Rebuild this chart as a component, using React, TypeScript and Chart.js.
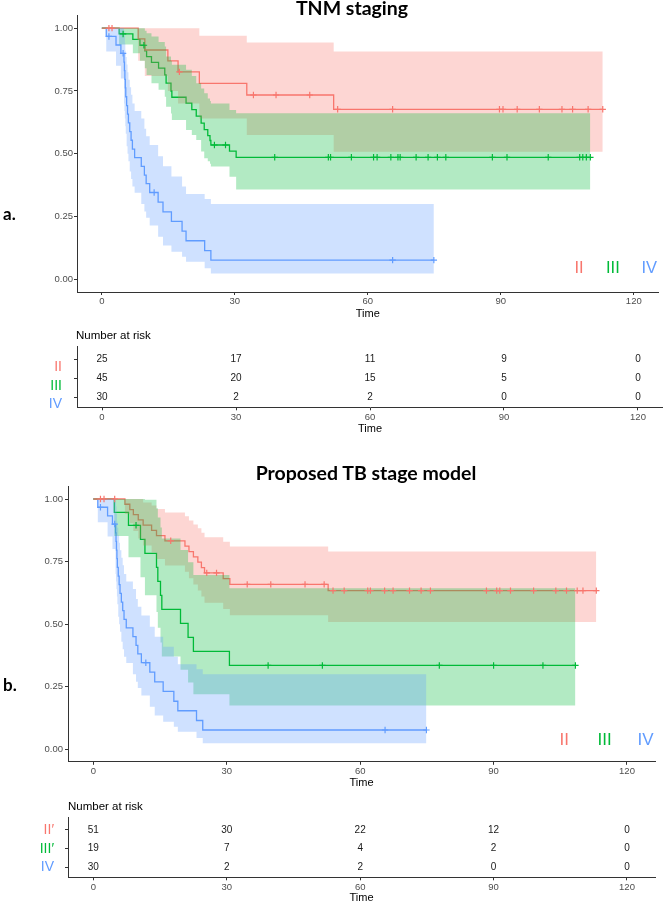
import React, { useEffect, useRef } from "react";
import { Chart, registerables } from "chart.js";

Chart.register(...registerables);

// ---------------- colours & fonts ----------------
const RED = "#F8766D";
const GREEN = "#00BA38";
const BLUE = "#619CFF";
const RED_BAND = "rgba(248,118,109,0.3)";
const GREEN_BAND = "rgba(0,186,56,0.3)";
const BLUE_BAND = "rgba(97,156,255,0.3)";
const FONT = "'Liberation Sans', Arial, sans-serif";
const TITLE_FONT = "Lato, 'Open Sans', sans-serif";
const AXIS = "#333333";
const TICK = "#4D4D4D";

// ---------------- shared axis ticks ----------------
const timeTicks = [0, 30, 60, 90, 120];
const survTicks = [0, 0.25, 0.5, 0.75, 1];

// ---------------- a. TNM staging ----------------
const tnmIITime = [0, 8.2, 9.7, 14.9, 17.2, 22.0, 32.7, 52.3, 113.0];
const tnmIISurv = [1, 0.957, 0.913, 0.87, 0.826, 0.78, 0.734, 0.677, 0.677];
const tnmIIUpper = [1, 1, 1, 1, 1, 0.97, 0.943, 0.907, 0.907];
const tnmIILower = [1, 0.87, 0.81, 0.75, 0.7, 0.64, 0.575, 0.508, 0.508];
const tnmIICensor = [1.6, 2.3, 17.5, 34.2, 39.3, 46.9, 53.2, 65.6, 89.7, 90.5, 93.7, 98.7, 103.8, 106.2, 109.7, 113.0];

const tnmIIITime = [0, 3.9, 7.0, 8.6, 9.7, 10.1, 11.2, 12.8, 14.2, 14.5, 15.6, 15.8, 19.0, 20.3, 21.3, 22.4, 23.1, 23.9, 24.4, 24.6, 28.8, 30.3, 110.2];
const tnmIIISurv = [1, 0.977, 0.955, 0.932, 0.91, 0.887, 0.864, 0.841, 0.814, 0.781, 0.75, 0.725, 0.702, 0.676, 0.65, 0.622, 0.596, 0.572, 0.553, 0.535, 0.511, 0.486, 0.486];
const tnmIIIUpper = [1, 1, 1, 1, 0.99, 0.98, 0.967, 0.945, 0.927, 0.887, 0.87, 0.854, 0.834, 0.81, 0.781, 0.76, 0.741, 0.72, 0.71, 0.7, 0.674, 0.661, 0.661];
const tnmIIILower = [1, 0.935, 0.9, 0.87, 0.84, 0.814, 0.781, 0.755, 0.727, 0.687, 0.66, 0.635, 0.595, 0.575, 0.555, 0.509, 0.482, 0.47, 0.46, 0.449, 0.409, 0.358, 0.358];
const tnmIIICensor = [4.8, 9.5, 25.4, 27.9, 39.0, 51.1, 51.6, 56.3, 61.3, 62.1, 65.2, 66.8, 67.3, 70.9, 73.6, 75.7, 77.6, 88.1, 91.4, 100.7, 107.8, 108.5, 109.3, 110.2];

// stage IV is the same group in both panels
const ivTime = [0, 1.0, 3.2, 4.3, 5.0, 5.1, 5.2, 5.3, 5.4, 5.6, 5.8, 6.0, 6.3, 6.6, 6.9, 7.4, 8.9, 9.6, 10.0, 10.8, 12.7, 13.8, 15.7, 18.1, 19.0, 23.2, 24.6, 74.9];
const ivSurv = [1, 0.967, 0.933, 0.9, 0.865, 0.831, 0.796, 0.762, 0.727, 0.692, 0.658, 0.623, 0.588, 0.554, 0.519, 0.485, 0.45, 0.415, 0.381, 0.346, 0.308, 0.269, 0.231, 0.192, 0.154, 0.115, 0.077, 0.077];
const ivUpper = [1, 1, 1, 1, 0.99, 0.97, 0.94, 0.91, 0.885, 0.855, 0.825, 0.795, 0.765, 0.735, 0.7, 0.67, 0.64, 0.6, 0.57, 0.535, 0.49, 0.45, 0.41, 0.37, 0.34, 0.32, 0.3, 0.3];
const ivLower = [1, 0.907, 0.85, 0.8, 0.7, 0.67, 0.64, 0.61, 0.58, 0.53, 0.5, 0.47, 0.43, 0.4, 0.37, 0.345, 0.3, 0.27, 0.245, 0.215, 0.17, 0.135, 0.11, 0.09, 0.07, 0.045, 0.024, 0.024];
const ivCensor = [1.6, 4.8, 11.8, 65.6, 74.9];

// ---------------- b. Proposed TB stage model ----------------
const tbIITime = [0, 7.1, 8.2, 9.0, 10.1, 11.2, 13.1, 14.2, 16.1, 20.6, 21.5, 22.5, 23.5, 24.3, 25.0, 29.2, 30.7, 52.8, 113.1];
const tbIISurv = [1, 0.979, 0.958, 0.938, 0.917, 0.896, 0.875, 0.854, 0.833, 0.812, 0.79, 0.769, 0.748, 0.726, 0.705, 0.682, 0.659, 0.634, 0.634];
const tbIIUpper = [1, 1, 1, 1, 1, 0.986, 0.974, 0.96, 0.946, 0.931, 0.914, 0.898, 0.883, 0.865, 0.847, 0.829, 0.81, 0.79, 0.79];
const tbIILower = [1, 0.94, 0.903, 0.872, 0.842, 0.814, 0.786, 0.76, 0.734, 0.709, 0.683, 0.658, 0.634, 0.61, 0.586, 0.561, 0.536, 0.509, 0.509];
const tbIICensor = [1.6, 2.4, 4.8, 17.4, 25.5, 27.7, 34.6, 39.9, 47.6, 51.9, 53.9, 56.4, 61.7, 62.3, 65.5, 67.4, 71.1, 73.7, 75.8, 88.4, 90.7, 91.4, 93.8, 99.0, 104.0, 106.4, 108.8, 110.1, 113.1];

const tbIIITime = [0, 4.7, 7.9, 10.6, 11.6, 14.2, 14.5, 15.1, 15.4, 19.6, 21.3, 22.5, 30.6, 108.4];
const tbIIISurv = [1, 0.947, 0.895, 0.839, 0.783, 0.727, 0.671, 0.615, 0.559, 0.503, 0.447, 0.391, 0.335, 0.335];
const tbIIIUpper = [1, 1, 1, 1, 0.997, 0.963, 0.926, 0.886, 0.842, 0.796, 0.747, 0.696, 0.643, 0.643];
const tbIIILower = [1, 0.852, 0.767, 0.687, 0.615, 0.549, 0.486, 0.427, 0.371, 0.318, 0.267, 0.22, 0.175, 0.175];
const tbIIICensor = [9.6, 39.3, 51.5, 77.8, 90.0, 101.1, 108.4];

// ---------------- number at risk ----------------
const riskTimes = [0, 30, 60, 90, 120];
const tnmRiskII = [25, 17, 11, 9, 0];
const tnmRiskIII = [45, 20, 15, 5, 0];
const tnmRiskIV = [30, 2, 2, 0, 0];
const tbRiskII = [51, 30, 22, 12, 0];
const tbRiskIII = [19, 7, 4, 2, 0];
const tbRiskIV = [30, 2, 2, 0, 0];
const tnmRowLabels = ["II", "III", "IV"];
const tbRowLabels = ["II\u2032", "III\u2032", "IV"];
const rowColors = [RED, GREEN, BLUE];

// ---------------- helpers ----------------
function survAt(time: number[], surv: number[], t: number) {
  let v = surv[0];
  for (let i = 0; i < time.length; i++) if (time[i] <= t) v = surv[i];
  return v;
}
function pts(xs: number[], ys: number[]) {
  return xs.map((x, i) => ({ x, y: ys[i] }));
}

type Group = {
  time: number[]; surv: number[]; upper: number[]; lower: number[];
  censor: number[]; color: string; band: string;
};

// Chart.js "before" stepping = horizontal first, then vertical (Kaplan–Meier steps)
const STEP = "before";

function kmDatasets(groups: Group[]) {
  const ds: any[] = [];
  groups.forEach((g) => {
    ds.push({
      data: pts(g.time, g.surv), borderColor: g.color, borderWidth: 1.3,
      stepped: STEP, pointRadius: 0, pointHoverRadius: 0, fill: false, order: 10,
    });
  });
  groups.forEach((g, gi) => {
    ds.push({
      data: pts(g.time, g.upper), borderColor: "rgba(0,0,0,0)", borderWidth: 0,
      backgroundColor: g.band, stepped: STEP, pointRadius: 0, pointHoverRadius: 0,
      fill: "+1", order: 5 - gi,
    });
    ds.push({
      data: pts(g.time, g.lower), borderColor: "rgba(0,0,0,0)", borderWidth: 0,
      stepped: STEP, pointRadius: 0, pointHoverRadius: 0, fill: false, order: 5 - gi,
    });
  });
  groups.forEach((g) => {
    ds.push({
      data: g.censor.map((t) => ({ x: t, y: survAt(g.time, g.surv, t) })),
      showLine: false, pointStyle: "cross", pointRadius: 3.2, pointHoverRadius: 3.2,
      pointBorderColor: g.color, borderColor: g.color, pointBorderWidth: 1.2, order: 0,
    });
  });
  return ds;
}

type Frame = {
  height: number; areaTop: number; areaBottom: number; areaLeft: number;
  padRight: number; xMin: number; xMax: number; yPad: number;
};

function xAxis(f: Frame) {
  return {
    type: "linear", min: f.xMin, max: f.xMax,
    afterBuildTicks: (s: any) => { s.ticks = timeTicks.map((v) => ({ value: v })); },
    afterFit: (s: any) => { s.height = f.height - f.areaBottom; },
    grid: { display: true, drawOnChartArea: false, drawTicks: true, tickLength: 3, color: AXIS, lineWidth: 1 },
    border: { display: true, color: AXIS, width: 1 },
    ticks: { color: TICK, font: { family: FONT, size: 9.5 }, padding: 1, maxRotation: 0, autoSkip: false, callback: (v: any) => String(v) },
    title: { display: true, text: "Time", color: "#000", font: { family: FONT, size: 11 }, padding: { top: 0, bottom: 1 } },
  };
}

function kmConfig(groups: Group[], f: Frame): any {
  return {
    type: "line",
    data: { datasets: kmDatasets(groups) },
    options: {
      responsive: false, animation: false, events: [],
      layout: { padding: { top: f.areaTop, right: f.padRight, left: 0, bottom: 0 } },
      plugins: { legend: { display: false }, tooltip: { enabled: false }, title: { display: false } },
      scales: {
        x: xAxis(f),
        y: {
          type: "linear", min: -0.05, max: 1.05,
          afterBuildTicks: (s: any) => { s.ticks = survTicks.map((v) => ({ value: v })); },
          afterFit: (s: any) => { s.width = f.areaLeft; },
          grid: { display: true, drawOnChartArea: false, drawTicks: true, tickLength: 3, color: AXIS, lineWidth: 1 },
          border: { display: true, color: AXIS, width: 1 },
          ticks: { color: TICK, font: { family: FONT, size: 9.5 }, padding: f.yPad, callback: (v: any) => Number(v).toFixed(2) },
        },
      },
    },
  };
}

const riskTextPlugin = {
  id: "riskText",
  afterDatasetsDraw(chart: any) {
    const ctx = chart.ctx;
    ctx.save();
    ctx.font = `10px ${FONT}`;
    ctx.fillStyle = "#1a1a1a";
    ctx.textAlign = "center";
    ctx.textBaseline = "middle";
    chart.data.datasets.forEach((ds: any, di: number) => {
      const meta = chart.getDatasetMeta(di);
      meta.data.forEach((el: any, i: number) => {
        ctx.fillText(String(ds.data[i].n), el.x, el.y);
      });
    });
    ctx.restore();
  },
};

type TableFrame = Frame & { yMin: number; yMax: number; labelOffset: number };

function riskConfig(rows: number[][], labels: string[], f: TableFrame): any {
  return {
    type: "line",
    data: {
      datasets: rows.map((counts, ri) => ({
        data: riskTimes.map((t, i) => ({ x: t, y: 3 - ri, n: counts[i] })),
        showLine: false, pointRadius: 0, pointHoverRadius: 0,
      })),
    },
    options: {
      responsive: false, animation: false, events: [],
      layout: { padding: { top: f.areaTop, right: f.padRight, left: 0, bottom: 0 } },
      plugins: { legend: { display: false }, tooltip: { enabled: false } },
      scales: {
        x: xAxis(f),
        y: {
          type: "linear", min: f.yMin, max: f.yMax,
          afterBuildTicks: (s: any) => { s.ticks = [1, 2, 3].map((v) => ({ value: v })); },
          afterFit: (s: any) => { s.width = f.areaLeft; },
          grid: { display: true, drawOnChartArea: false, drawTicks: true, tickLength: 3, color: AXIS, lineWidth: 1 },
          border: { display: true, color: AXIS, width: 1 },
          ticks: {
            font: { family: FONT, size: 14 },
            padding: f.yPad,
            labelOffset: f.labelOffset,
            color: (c: any) => rowColors[3 - c.tick.value],
            callback: (v: any) => labels[3 - Number(v)],
          },
        },
      },
    },
    plugins: [riskTextPlugin],
  };
}

// ---------------- frames (pixel layout) ----------------
const chartAFrame: Frame = { height: 322, areaTop: 15.6, areaBottom: 292, areaLeft: 77, padRight: 0, xMin: -5.6, xMax: 125.6, yPad: 1 };
const tableAFrame: TableFrame = { height: 115, areaTop: 24.7, areaBottom: 85.3, areaLeft: 77, padRight: 0, xMin: -5.6, xMax: 125.6, yPad: 12, yMin: 0.46, yMax: 3.67, labelOffset: 7.5 };
const chartBFrame: Frame = { height: 354, areaTop: 49.5, areaBottom: 324.8, areaLeft: 68, padRight: 8, xMin: -5.7, xMax: 126.3, yPad: 2 };
const tableBFrame: TableFrame = { height: 115, areaTop: 26.3, areaBottom: 86.3, areaLeft: 68, padRight: 8, xMin: -5.7, xMax: 126.3, yPad: 11, yMin: 0.464, yMax: 3.68, labelOffset: 0 };

function ChartCanvas({ top, height, make }: { top: number; height: number; make: () => any }) {
  const ref = useRef<HTMLCanvasElement | null>(null);
  useEffect(() => {
    if (!ref.current) return;
    const chart = new Chart(ref.current, make());
    return () => chart.destroy();
  }, []);
  return (
    <canvas
      ref={ref}
      width={663}
      height={height}
      style={{ position: "absolute", left: 0, top, width: 663, height, display: "block" }}
    />
  );
}

function Text(props: { left: number; top: number; children: any; style?: any; center?: boolean }) {
  return (
    <div
      style={{
        position: "absolute", left: props.left, top: props.top, whiteSpace: "nowrap",
        lineHeight: 1, transform: props.center ? "translateX(-50%)" : undefined, ...props.style,
      }}
    >
      {props.children}
    </div>
  );
}

export default function App() {
  const groupsA: Group[] = [
    { time: tnmIITime, surv: tnmIISurv, upper: tnmIIUpper, lower: tnmIILower, censor: tnmIICensor, color: RED, band: RED_BAND },
    { time: tnmIIITime, surv: tnmIIISurv, upper: tnmIIIUpper, lower: tnmIIILower, censor: tnmIIICensor, color: GREEN, band: GREEN_BAND },
    { time: ivTime, surv: ivSurv, upper: ivUpper, lower: ivLower, censor: ivCensor, color: BLUE, band: BLUE_BAND },
  ];
  const groupsB: Group[] = [
    { time: tbIITime, surv: tbIISurv, upper: tbIIUpper, lower: tbIILower, censor: tbIICensor, color: RED, band: RED_BAND },
    { time: tbIIITime, surv: tbIIISurv, upper: tbIIIUpper, lower: tbIIILower, censor: tbIIICensor, color: GREEN, band: GREEN_BAND },
    { time: ivTime, surv: ivSurv, upper: ivUpper, lower: ivLower, censor: ivCensor, color: BLUE, band: BLUE_BAND },
  ];

  const titleStyle = { fontFamily: TITLE_FONT, fontWeight: 700, fontSize: 19.5, color: "#000" };
  const panelStyle = { fontFamily: TITLE_FONT, fontWeight: 700, fontSize: 17, color: "#000" };
  const legendA = { fontFamily: FONT, fontSize: 16.5 };
  const legendB = { fontFamily: FONT, fontSize: 17 };
  const riskHead = { fontFamily: FONT, fontSize: 11.5, color: "#000" };

  return (
    <div style={{ position: "absolute", left: 0, top: 0, width: 663, height: 906, background: "#fff", overflow: "hidden" }}>
      <ChartCanvas top={0} height={chartAFrame.height} make={() => kmConfig(groupsA, chartAFrame)} />
      <ChartCanvas top={322} height={tableAFrame.height} make={() => riskConfig([tnmRiskII, tnmRiskIII, tnmRiskIV], tnmRowLabels, tableAFrame)} />
      <ChartCanvas top={437} height={chartBFrame.height} make={() => kmConfig(groupsB, chartBFrame)} />
      <ChartCanvas top={791} height={tableBFrame.height} make={() => riskConfig([tbRiskII, tbRiskIII, tbRiskIV], tbRowLabels, tableBFrame)} />

      <Text left={352} top={-2.3} center style={titleStyle}>TNM staging</Text>
      <Text left={366} top={463.4} center style={titleStyle}>Proposed TB stage model</Text>

      <Text left={3} top={205} style={panelStyle}>a.</Text>
      <Text left={3} top={676} style={panelStyle}>b.</Text>

      <Text left={574.5} top={258.7} style={{ ...legendA, color: RED }}>II</Text>
      <Text left={606} top={258.7} style={{ ...legendA, color: GREEN }}>III</Text>
      <Text left={641.5} top={258.7} style={{ ...legendA, color: BLUE }}>IV</Text>

      <Text left={559.5} top={731.3} style={{ ...legendB, color: RED }}>II</Text>
      <Text left={597.5} top={731.3} style={{ ...legendB, color: GREEN }}>III</Text>
      <Text left={637.5} top={731.3} style={{ ...legendB, color: BLUE }}>IV</Text>

      <Text left={76} top={330.3} style={riskHead}>Number at risk</Text>
      <Text left={68} top={801} style={riskHead}>Number at risk</Text>
    </div>
  );
}
